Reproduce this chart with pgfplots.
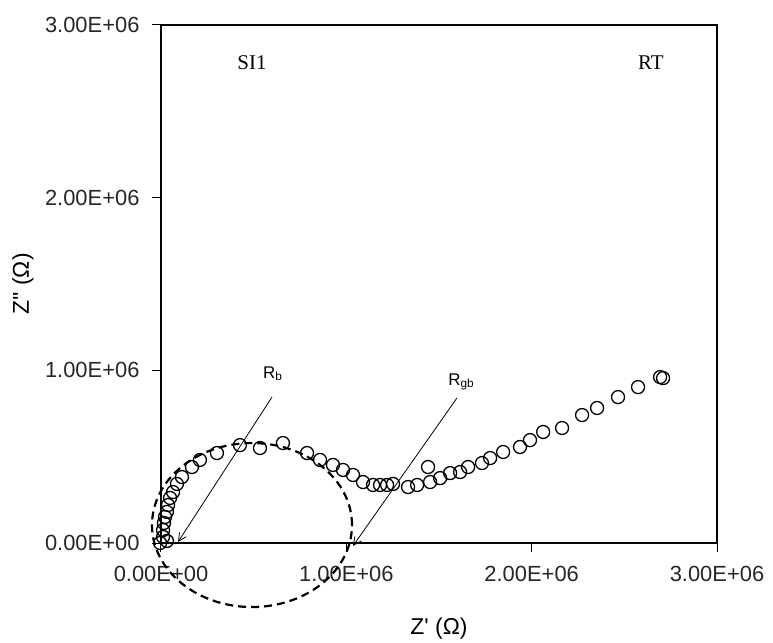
\documentclass[border=0pt]{standalone}
\usepackage{pgfplots}
\pgfplotsset{compat=1.18}
\usepackage{fontspec}
\setmainfont{Liberation Sans}[Ligatures=TeXOff]
\newfontfamily\timesf{Liberation Serif}
\usetikzlibrary{arrows.meta}
\begin{document}
\begin{tikzpicture}
\path[use as bounding box] (0,0) rectangle (773bp,643bp);
\begin{axis}[
  at={(161bp,100bp)}, anchor=south west,
  scale only axis, width=556bp, height=518bp,
  xmin=0, xmax=3e6, ymin=0, ymax=3e6,
  scaled ticks=false,
  clip=false,
  axis line style={black, line width=1.3bp},
  xtick={0,1e6,2e6,3e6}, ytick={0,1e6,2e6,3e6},
  xticklabels={0.00E+00,1.00E+06,2.00E+06,3.00E+06},
  yticklabels={0.00E+00,1.00E+06,2.00E+06,3.00E+06},
  xtick pos=left, ytick pos=left,
  tick align=outside, major tick length=9bp,
  tick style={black, line width=1bp},
  ticklabel style={font=\fontsize{22}{26}\selectfont, text=black!85},
  xticklabel style={yshift=-11bp},
  yticklabel style={xshift=-9bp},
  xlabel={Z' (Ω)}, ylabel={Z'' (Ω)},
  label style={font=\fontsize{23}{27}\selectfont},
  xlabel style={at={(axis description cs:0.5,-0.166)}, anchor=center},
  ylabel style={at={(axis description cs:-0.2482,0.5)}, anchor=center},
]
\addplot[only marks, mark=o, mark size=6.5bp, mark options={line width=1.3bp, black}] coordinates {
(-0.005e6,0.000e6) (0.032e6,0.012e6) (0.011e6,0.035e6) (0.011e6,0.075e6)
(0.016e6,0.116e6) (0.022e6,0.151e6) (0.032e6,0.180e6) (0.038e6,0.220e6)
(0.049e6,0.261e6) (0.065e6,0.295e6) (0.086e6,0.342e6) (0.113e6,0.382e6)
(0.167e6,0.440e6) (0.210e6,0.481e6) (0.302e6,0.521e6) (0.426e6,0.567e6)
(0.534e6,0.550e6) (0.658e6,0.579e6) (0.788e6,0.521e6) (0.858e6,0.481e6)
(0.928e6,0.452e6) (0.982e6,0.423e6) (1.036e6,0.394e6) (1.090e6,0.353e6)
(1.144e6,0.336e6) (1.182e6,0.336e6) (1.220e6,0.336e6) (1.252e6,0.342e6)
(1.333e6,0.324e6) (1.382e6,0.336e6) (1.441e6,0.440e6) (1.452e6,0.353e6)
(1.506e6,0.376e6) (1.560e6,0.405e6) (1.614e6,0.411e6) (1.657e6,0.440e6)
(1.732e6,0.463e6) (1.776e6,0.492e6) (1.846e6,0.527e6) (1.937e6,0.556e6)
(1.991e6,0.596e6) (2.062e6,0.643e6) (2.164e6,0.666e6) (2.272e6,0.741e6)
(2.353e6,0.782e6) (2.466e6,0.845e6) (2.574e6,0.903e6) (2.693e6,0.961e6)
(2.709e6,0.955e6)
};
\draw[black, line width=2.2bp, dash pattern=on 8bp off 5bp] (axis cs:0.491e6,0.104e6) ellipse [x radius=100bp, y radius=82bp];
\draw[black, line width=0.8bp, -{Straight Barb[length=8bp,width=8bp]}] (axis cs:0.599e6,0.845e6) -- (axis cs:0.092e6,0.006e6);
\draw[black, line width=0.8bp, -{Straight Barb[length=8bp,width=8bp]}] (axis cs:1.597e6,0.840e6) -- (axis cs:1.036e6,-0.017e6);
\node[anchor=base west, inner sep=0pt, font=\fontsize{17}{20}\selectfont] at (axis cs:0.550e6,0.955e6) {R\textsubscript{b}};
\node[anchor=base west, inner sep=0pt, font=\fontsize{17}{20}\selectfont] at (axis cs:1.549e6,0.915e6) {R\textsubscript{gb}};
\node[font=\timesf\fontsize{21}{25}\selectfont] at (axis description cs:0.1637,0.9266) {SI1};
\node[font=\timesf\fontsize{21}{25}\selectfont] at (axis description cs:0.881,0.9266) {RT};
\end{axis}
\end{tikzpicture}
\end{document}
